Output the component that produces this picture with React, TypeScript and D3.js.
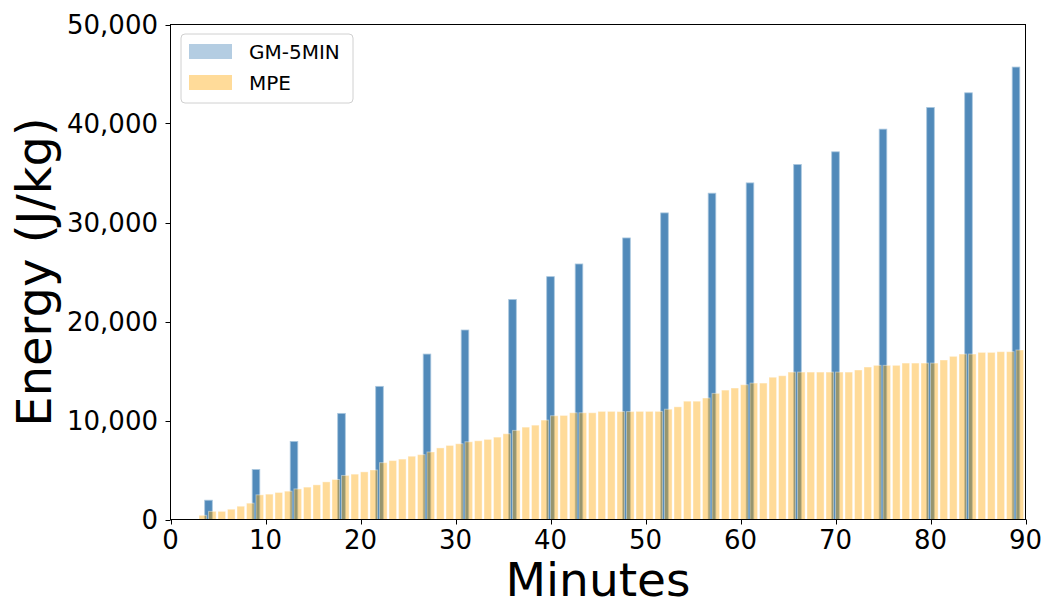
import React, { useRef, useEffect } from "react";
import * as d3 from "d3";

// GM-5MIN measurements (minute, J/kg)
const blueMinutes = [4, 9, 13, 18, 22, 27, 31, 36, 40, 43, 48, 52, 57, 61, 66, 70, 75, 80, 84, 89];
const blueEnergy = [
  1950, 5050, 7890, 10720, 13450, 16710, 19140, 22220, 24530, 25810,
  28440, 30970, 32960, 34000, 35860, 37140, 39430, 41620, 43100, 45700,
];

// MPE, one bar per minute starting at minute 3
const orangeStart = 3;
const orangeEnergy = [
  420, 820, 820, 1040, 1340, 1650, 2490, 2560, 2730, 2860,
  3090, 3270, 3500, 3800, 4040, 4450, 4580, 4810, 5000, 5740,
  5950, 6100, 6390, 6550, 6820, 7230, 7480, 7650, 7850, 7950,
  8090, 8320, 8660, 9000, 9330, 9530, 10040, 10480, 10510, 10780,
  10780, 10780, 10920, 10920, 10900, 10900, 10920, 10920, 10920, 11140,
  11380, 11950, 11950, 12270, 12740, 13070, 13280, 13610, 13780, 13780,
  14370, 14520, 14890, 14890, 14890, 14890, 14890, 14890, 14890, 15100,
  15400, 15570, 15570, 15570, 15800, 15800, 15800, 15800, 16110, 16480,
  16710, 16710, 16880, 16880, 16950, 16950, 17120,
];

const xTicks = [0, 10, 20, 30, 40, 50, 60, 70, 80, 90];
const yTicks = [0, 10000, 20000, 30000, 40000, 50000];
const legendItems = [
  { label: "GM-5MIN", color: "#b4cde2" },
  { label: "MPE", color: "#ffdb99" },
];

const App = () => {
  const svgRef = useRef(null);

  useEffect(() => {
    const width = 1046;
    const height = 600;
    const left = 170.5;
    const right = 1025.5;
    const top = 24.5;
    const bottom = 519.5;
    const font = "DejaVu Sans, sans-serif";

    const svg = d3.select(svgRef.current);
    svg.selectAll("*").remove();
    svg.attr("width", width).attr("height", height);

    const x = d3.scaleLinear().domain([0, 90]).range([left, right]);
    const y = d3.scaleLinear().domain([0, 50000]).range([bottom, top]);
    const barW = x(0.8) - x(0);

    // blue bars, centred on their minute
    svg.append("g")
      .selectAll("rect")
      .data(blueMinutes.map((m, i) => ({ m, v: blueEnergy[i] })))
      .enter()
      .append("rect")
      .attr("x", (d) => x(d.m) - barW / 2)
      .attr("y", (d) => y(d.v))
      .attr("width", barW)
      .attr("height", (d) => y(0) - y(d.v))
      .attr("fill", "#518aba")
      .attr("stroke", "#a9c6de")
      .attr("stroke-width", 0.8);

    // orange bars, edge aligned, translucent on top
    svg.append("g")
      .selectAll("rect")
      .data(orangeEnergy.map((v, i) => ({ m: orangeStart + i, v })))
      .enter()
      .append("rect")
      .attr("x", (d) => x(d.m))
      .attr("y", (d) => y(d.v))
      .attr("width", barW)
      .attr("height", (d) => y(0) - y(d.v))
      .attr("fill", "orange")
      .attr("fill-opacity", 0.4)
      .attr("stroke", "white")
      .attr("stroke-opacity", 0.4)
      .attr("stroke-width", 1);

    // frame
    svg.append("rect")
      .attr("x", left)
      .attr("y", top)
      .attr("width", right - left)
      .attr("height", bottom - top)
      .attr("fill", "none")
      .attr("stroke", "black")
      .attr("stroke-width", 1);

    // x ticks
    const xg = svg.append("g");
    xTicks.forEach((t) => {
      const px = Math.round(x(t)) + 0.5;
      xg.append("line")
        .attr("x1", px).attr("x2", px)
        .attr("y1", bottom).attr("y2", bottom + 5)
        .attr("stroke", "black");
      xg.append("text")
        .attr("x", x(t))
        .attr("y", 549)
        .attr("text-anchor", "middle")
        .attr("font-family", font)
        .attr("font-size", 26)
        .text(t);
    });

    // y ticks
    const yg = svg.append("g");
    yTicks.forEach((t) => {
      const py = Math.round(y(t)) + 0.5;
      yg.append("line")
        .attr("x1", left - 5).attr("x2", left)
        .attr("y1", py).attr("y2", py)
        .attr("stroke", "black");
      yg.append("text")
        .attr("x", 158)
        .attr("y", y(t))
        .attr("dy", "0.36em")
        .attr("text-anchor", "end")
        .attr("font-family", font)
        .attr("font-size", 26)
        .text(d3.format(",")(t));
    });

    // axis titles
    svg.append("text")
      .attr("x", (left + right) / 2)
      .attr("y", 596)
      .attr("text-anchor", "middle")
      .attr("font-family", font)
      .attr("font-size", 47)
      .text("Minutes");

    svg.append("text")
      .attr("transform", `translate(51, ${(top + bottom) / 2}) rotate(-90)`)
      .attr("text-anchor", "middle")
      .attr("font-family", font)
      .attr("font-size", 48)
      .text("Energy (J/kg)");

    // legend
    const lg = svg.append("g");
    lg.append("rect")
      .attr("x", 181)
      .attr("y", 34)
      .attr("width", 172)
      .attr("height", 69)
      .attr("rx", 4)
      .attr("fill", "white")
      .attr("fill-opacity", 0.8)
      .attr("stroke", "#d0d0d0");
    legendItems.forEach((item, i) => {
      lg.append("rect")
        .attr("x", 189)
        .attr("y", 44 + i * 31)
        .attr("width", 43)
        .attr("height", 15)
        .attr("fill", item.color);
      lg.append("text")
        .attr("x", 249)
        .attr("y", 59 + i * 31)
        .attr("font-family", font)
        .attr("font-size", 20)
        .text(item.label);
    });
  }, []);

  return (
    <div style={{ position: "absolute", left: 0, top: 0 }}>
      <svg ref={svgRef} style={{ display: "block" }}></svg>
    </div>
  );
};

export default App;
